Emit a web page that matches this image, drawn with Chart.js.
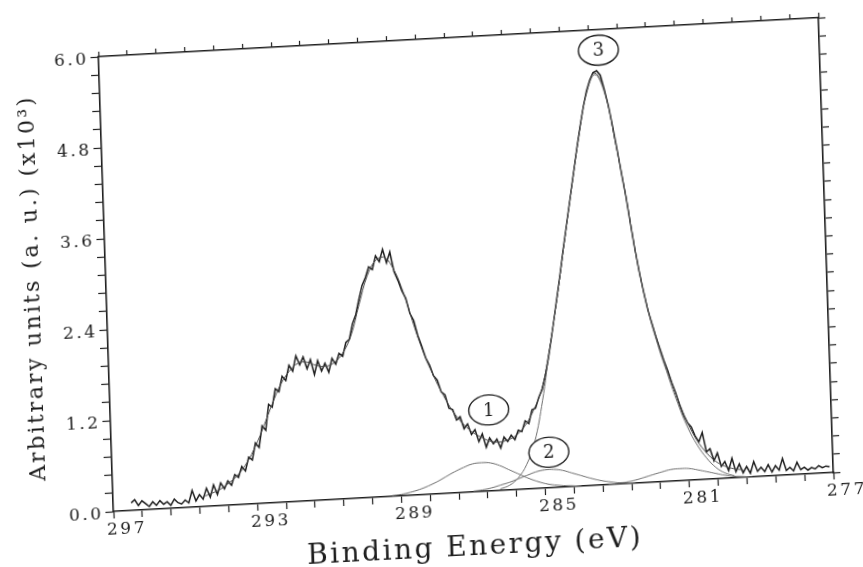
<!DOCTYPE html>
<html>
<head>
<meta charset="utf-8">
<title>C 1s XPS spectrum</title>
<script src="https://cdn.jsdelivr.net/npm/chart.js@4.4.1/dist/chart.umd.min.js"></script>
<style>
    html, body { margin: 0; padding: 0; background: #fff; }
    #wrap { width: 863px; height: 567px; overflow: hidden; position: relative; background: #fff; }
    /* the scanned figure sits slightly askew on the page */
    #xps { display: block; transform-origin: 431.5px 283.5px; transform: matrix(0.9985, -0.0541, 0.0329, 0.9995, 0, 0); }
</style>
</head>
<body>
<div id="wrap"><canvas id="xps" width="863" height="567"></canvas></div>
<script>
// Espectro medido: 296.5 -> 277.1 eV, paso 0.1 eV (x10^3 cuentas)
const scanStart = 296.5;
const scanStep = 0.1;
const scanCounts = [
    0.10, 0.14, 0.06, 0.12, 0.08, 0.04, 0.10, 0.05, 0.11, 0.06,
    0.09, 0.04, 0.12, 0.07, 0.05, 0.10, 0.06, 0.22, 0.08, 0.16,
    0.10, 0.24, 0.12, 0.28, 0.15, 0.30, 0.22, 0.32, 0.26, 0.40,
    0.36, 0.50, 0.44, 0.62, 0.58, 0.80, 0.74, 1.02, 0.96, 1.30,
    1.26, 1.50, 1.46, 1.66, 1.60, 1.80, 1.72, 1.92, 1.80, 1.90,
    1.74, 1.86, 1.66, 1.84, 1.70, 1.80, 1.68, 1.86, 1.78, 1.92,
    1.88, 2.06, 2.10, 2.30, 2.42, 2.62, 2.80, 2.90, 3.04, 3.00,
    3.18, 3.10, 3.26, 3.08, 3.22, 2.96, 2.84, 2.70, 2.60, 2.40,
    2.30, 2.10, 1.96, 1.80, 1.70, 1.56, 1.50, 1.34, 1.30, 1.12,
    1.10, 0.96, 1.00, 0.84, 0.90, 0.76, 0.82, 0.66, 0.76, 0.58,
    0.70, 0.62, 0.68, 0.56, 0.70, 0.64, 0.72, 0.66, 0.78, 0.76,
    0.90, 0.86, 1.04, 1.06, 1.20, 1.30, 1.48, 1.70, 1.96, 2.24,
    2.52, 2.80, 3.10, 3.38, 3.66, 3.94, 4.22, 4.50, 4.76, 5.00,
    5.20, 5.34, 5.44, 5.46, 5.40, 5.20, 4.98, 4.70, 4.40, 4.08,
    3.78, 3.42, 3.08, 2.78, 2.52, 2.28, 2.10, 1.92, 1.76, 1.60,
    1.46, 1.30, 1.16, 1.00, 0.86, 0.76, 0.70, 0.58, 0.50, 0.62,
    0.36, 0.40, 0.24, 0.34, 0.16, 0.22, 0.10, 0.26, 0.08, 0.18,
    0.06, 0.14, 0.05, 0.20, 0.07, 0.12, 0.06, 0.15, 0.05, 0.13,
    0.07, 0.22, 0.06, 0.10, 0.05, 0.16, 0.06, 0.09, 0.05, 0.08,
    0.06, 0.10, 0.07, 0.09, 0.08
];

// Curva ajustada (envolvente), paso 0.25 eV
const fitStart = 294.5;
const fitStep = 0.25;
const fitCounts = [
    0.13, 0.17, 0.22,
    0.30, 0.40, 0.55, 0.76, 1.02, 1.30, 1.55, 1.72, 1.82, 1.83, 1.78, 1.76,
    1.80, 1.92, 2.15, 2.55, 2.92, 3.12, 3.15, 2.98, 2.66, 2.24, 1.86, 1.56,
    1.30, 1.08, 0.92, 0.80, 0.72, 0.66, 0.64, 0.66, 0.72, 0.84, 1.04, 1.32,
    1.86, 2.50, 3.22, 3.94, 4.62, 5.18, 5.43, 5.18, 4.52, 3.78, 2.94, 2.30,
    1.84, 1.44, 1.08, 0.76, 0.52, 0.35, 0.23, 0.16, 0.12, 0.10
];

// Componentes del ajuste, paso 0.25 eV
const peak1Start = 289.25;
const peak1Counts = [0.01, 0.02, 0.04, 0.07, 0.11, 0.16, 0.22, 0.28, 0.33, 0.37, 0.38,
    0.37, 0.33, 0.27, 0.21, 0.15, 0.10, 0.06, 0.035, 0.02, 0.01, 0.0];
const peak2Start = 287.0;
const peak2Counts = [0.01, 0.02, 0.04, 0.07, 0.10, 0.14, 0.18, 0.22, 0.24, 0.24,
    0.22, 0.18, 0.14, 0.10, 0.065, 0.04, 0.02, 0.01, 0.0];
const peak3Start = 286.25;
const peak3Counts = [0.02, 0.06, 0.15, 0.32, 0.62, 1.15, 1.84, 2.50, 3.22, 3.92, 4.60,
    5.16, 5.41, 5.16, 4.52, 3.78, 2.92, 2.28, 1.80, 1.40, 1.02, 0.70, 0.46, 0.28,
    0.15, 0.07, 0.03];
const peak4Start = 283.25;
const peak4Counts = [0.0, 0.01, 0.02, 0.04, 0.07, 0.10, 0.13, 0.155, 0.16, 0.155,
    0.13, 0.10, 0.07, 0.04, 0.02, 0.01, 0.0];

// Etiquetas circuladas (eV, cuentas)
const markText = ['1', '2', '3'];
const markEnergy = [286.5, 284.87, 283.13];
const markCounts = [1.07, 0.47, 5.73];

// Ejes
const energyMin = 277;
const energyMax = 297;
const energyStep = 0.8;
const countsMax = 6.0;
const countsStep = 0.24;

const ink = '#1e1e1e';
const fitInk = '#4a4a4a';
const compInk = '#6e6e6e';
const serifFont = '"DejaVu Serif", "Liberation Serif", serif';

function sampled(startE, step, values) {
    return values.map((v, i) => ({ x: +(startE - i * step).toFixed(2), y: v }));
}

// espaciado de máquina de escribir para todos los textos
const typewriter = {
    id: 'typewriter',
    beforeDraw: function(chart) { chart.ctx.letterSpacing = '2.5px'; },
    afterDraw: function(chart) { chart.ctx.letterSpacing = '0px'; }
};

const circleMarks = {
    id: 'circleMarks',
    afterDatasetsDraw: function(chart) {
        const ctx = chart.ctx;
        const xs = chart.scales.x;
        const ys = chart.scales.y;
        ctx.save();
        ctx.letterSpacing = '0px';
        markText.forEach((t, i) => {
            const px = xs.getPixelForValue(markEnergy[i]);
            const py = ys.getPixelForValue(markCounts[i]);
            ctx.beginPath();
            ctx.ellipse(px, py, 20, 15, 0, 0, Math.PI * 2);
            ctx.fillStyle = '#fff';
            ctx.fill();
            ctx.lineWidth = 1.4;
            ctx.strokeStyle = ink;
            ctx.stroke();
            ctx.fillStyle = ink;
            ctx.font = '18px ' + serifFont;
            ctx.textAlign = 'center';
            ctx.textBaseline = 'middle';
            ctx.fillText(t, px, py + 1);
        });
        ctx.restore();
    }
};

function lineSet(data, color, width, tension) {
    return {
        data: data,
        borderColor: color,
        borderWidth: width,
        pointRadius: 0,
        fill: false,
        tension: tension
    };
}

function axisGrid(len) {
    return {
        drawOnChartArea: false,
        drawTicks: true,
        tickLength: len,
        tickColor: ink,
        tickWidth: 1.2
    };
}

const ctx = document.getElementById('xps').getContext('2d');
new Chart(ctx, {
    type: 'line',
    data: {
        datasets: [
            lineSet(sampled(peak1Start, 0.25, peak1Counts), compInk, 1, 0.4),
            lineSet(sampled(peak2Start, 0.25, peak2Counts), compInk, 1, 0.4),
            lineSet(sampled(peak4Start, 0.25, peak4Counts), compInk, 1, 0.4),
            lineSet(sampled(peak3Start, 0.25, peak3Counts), compInk, 1, 0.4),
            lineSet(sampled(fitStart, fitStep, fitCounts), fitInk, 1, 0.4),
            lineSet(sampled(scanStart, scanStep, scanCounts), ink, 1.5, 0)
        ]
    },
    options: {
        responsive: false,
        animation: false,
        devicePixelRatio: 1,
        layout: { padding: 0 },
        plugins: {
            legend: { display: false },
            tooltip: { enabled: false }
        },
        scales: {
            x: {
                type: 'linear',
                position: 'bottom',
                reverse: true,
                min: energyMin,
                max: energyMax,
                afterFit: function(scale) { scale.height = 73; },
                border: { display: true, color: ink, width: 1.6 },
                grid: axisGrid(7),
                ticks: {
                    stepSize: energyStep,
                    autoSkip: false,
                    maxRotation: 0,
                    minRotation: 0,
                    padding: 1,
                    labelOffset: 13,
                    color: ink,
                    font: { family: serifFont, size: 17 },
                    callback: function(value, index) {
                        return index % 5 === 0 ? String(Math.round(value)) : '';
                    }
                },
                title: {
                    display: true,
                    text: 'Binding Energy (eV)',
                    color: ink,
                    font: { family: serifFont, size: 28 },
                    padding: { top: 0, bottom: 0 }
                }
            },
            x2: {
                type: 'linear',
                position: 'top',
                reverse: true,
                min: energyMin,
                max: energyMax,
                afterFit: function(scale) { scale.height = 39; },
                border: { display: true, color: ink, width: 1.6 },
                grid: axisGrid(5),
                ticks: { stepSize: energyStep, autoSkip: false, display: false }
            },
            y: {
                type: 'linear',
                position: 'left',
                min: 0,
                max: countsMax,
                afterFit: function(scale) { scale.width = 106; },
                border: { display: true, color: ink, width: 1.6 },
                grid: axisGrid(8),
                ticks: {
                    stepSize: countsStep,
                    autoSkip: false,
                    padding: 2,
                    labelOffset: 3,
                    color: ink,
                    font: { family: serifFont, size: 17 },
                    callback: function(value, index) {
                        return index % 5 === 0 ? value.toFixed(1) : '';
                    }
                },
                title: {
                    display: true,
                    text: 'Arbitrary units (a. u.) (x10³)',
                    color: ink,
                    font: { family: serifFont, size: 22 },
                    padding: { top: 20, bottom: 0 }
                }
            },
            y2: {
                type: 'linear',
                position: 'right',
                min: 0,
                max: countsMax,
                afterFit: function(scale) { scale.width = 36; },
                border: { display: true, color: ink, width: 1.6 },
                grid: axisGrid(7),
                ticks: { stepSize: countsStep, autoSkip: false, display: false }
            }
        }
    },
    plugins: [typewriter, circleMarks]
});
</script>
</body>
</html>
